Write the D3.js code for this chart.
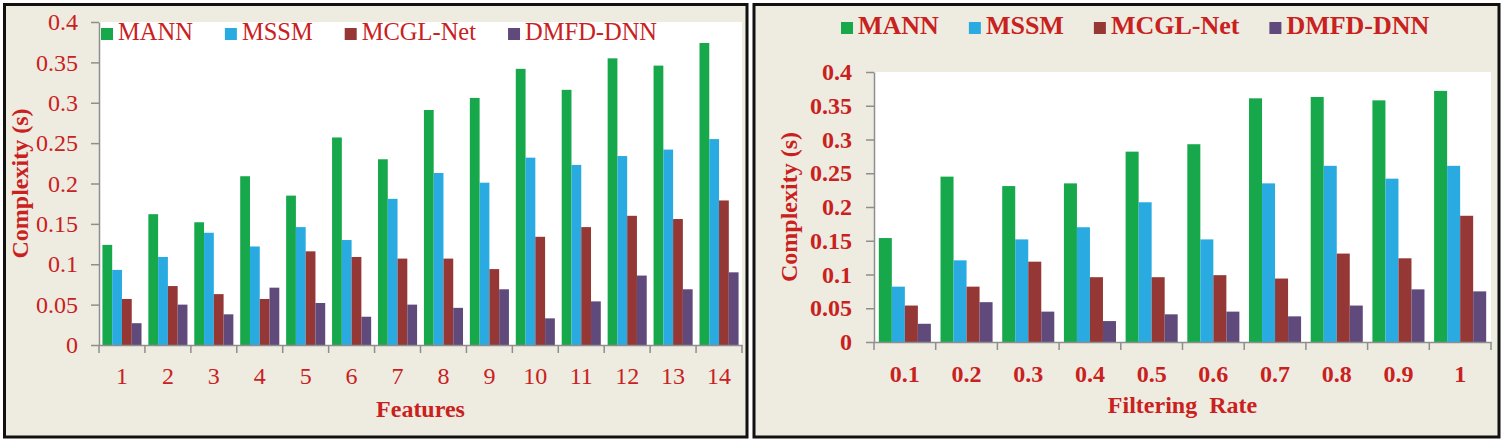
<!DOCTYPE html>
<html>
<head>
<meta charset="utf-8">
<script src="https://cdn.jsdelivr.net/npm/d3@7"></script>
<style>
  body { margin: 0; background: #ffffff; }
  svg { display: block; }
</style>
</head>
<body>
<script>
// series names and colours
var seriesNames = ["MANN", "MSSM", "MCGL-Net", "DMFD-DNN"];
var seriesColors = ["#17a84b", "#29abe2", "#953735", "#604a7b"];

// left chart: complexity vs number of features
var featureCats = ["1","2","3","4","5","6","7","8","9","10","11","12","13","14"];
var featMANN  = [0.124,0.162,0.152,0.209,0.185,0.257,0.230,0.291,0.306,0.342,0.316,0.355,0.346,0.374];
var featMSSM  = [0.093,0.109,0.139,0.122,0.146,0.130,0.181,0.213,0.201,0.232,0.223,0.234,0.242,0.255];
var featMCGL  = [0.057,0.073,0.063,0.057,0.116,0.109,0.107,0.107,0.094,0.134,0.146,0.160,0.156,0.179];
var featDMFD  = [0.027,0.050,0.038,0.071,0.052,0.035,0.050,0.046,0.069,0.033,0.054,0.086,0.069,0.090];

// right chart: complexity vs filtering rate
var rateCats = ["0.1","0.2","0.3","0.4","0.5","0.6","0.7","0.8","0.9","1"];
var rateMANN = [0.154,0.245,0.231,0.235,0.282,0.293,0.361,0.363,0.358,0.372];
var rateMSSM = [0.082,0.121,0.152,0.170,0.207,0.152,0.235,0.261,0.242,0.261];
var rateMCGL = [0.054,0.082,0.119,0.096,0.096,0.099,0.094,0.131,0.124,0.187];
var rateDMFD = [0.027,0.059,0.045,0.031,0.041,0.045,0.038,0.054,0.078,0.075];

// y ticks (same for both)
var yTicks = [0,0.05,0.1,0.15,0.2,0.25,0.3,0.35,0.4];

//globals
var W = 1505, H = 443;
var textRed = "#c9211e";
var axisGrey = "#8e8e8e";
var serif = "'Liberation Serif','Times New Roman',serif";

var svg = d3.select("body").append("svg")
    .attr("width", W)
    .attr("height", H);

function drawPanel(p) {
    var g = svg.append("g");

    // frame
    g.append("rect")
        .attr("x", p.box[0]).attr("y", p.box[1])
        .attr("width", p.box[2]).attr("height", p.box[3])
        .attr("fill", "#eeebe0")
        .attr("stroke", "#111")
        .attr("stroke-width", 3);

    // white plot area
    g.append("rect")
        .attr("x", p.left).attr("y", p.top)
        .attr("width", p.right - p.left).attr("height", p.bottom - p.top)
        .attr("fill", "#ffffff");

    var x = d3.scaleBand().domain(p.cats).range([p.left, p.right]);
    var y = d3.scaleLinear().domain([0, 0.4]).range([p.bottom, p.top]);
    var inner = d3.scaleBand().domain(seriesNames)
        .range([0, x.bandwidth()])
        .paddingOuter(p.outerPad).paddingInner(0);

    var weight = p.bold ? "bold" : "normal";

    // bars
    p.series.forEach(function(vals, si) {
        g.append("g").selectAll("rect")
            .data(vals)
            .enter()
            .append("rect")
            .attr("x", function(d, i){ return x(p.cats[i]) + inner(seriesNames[si]); })
            .attr("y", function(d){ return y(d); })
            .attr("width", inner.bandwidth())
            .attr("height", function(d){ return y(0) - y(d); })
            .attr("fill", seriesColors[si]);
    });

    // y axis
    var yAxis = g.append("g")
        .attr("transform", "translate(" + p.left + ",0)")
        .call(d3.axisLeft(y).tickValues(yTicks).tickSize(8).tickSizeOuter(0).tickPadding(p.yPad)
            .tickFormat(function(d){ return d3.format("")(+d.toFixed(2)); }));
    yAxis.selectAll("line").attr("stroke", axisGrey).attr("stroke-width", 1.5);
    yAxis.select(".domain").attr("stroke", axisGrey).attr("stroke-width", 1.5);
    yAxis.selectAll("text")
        .attr("fill", textRed)
        .style("font-family", serif)
        .style("font-size", p.tickFont + "px")
        .style("font-weight", weight);

    // x axis (labels centred, ticks on category boundaries)
    var xAxis = g.append("g")
        .attr("transform", "translate(0," + p.bottom + ")")
        .call(d3.axisBottom(x).tickSize(0).tickSizeOuter(0).tickPadding(p.xPad));
    xAxis.select(".domain").attr("stroke", axisGrey).attr("stroke-width", 1.5);
    xAxis.selectAll("text")
        .attr("fill", textRed)
        .style("font-family", serif)
        .style("font-size", p.tickFont + "px")
        .style("font-weight", weight);

    var bounds = p.cats.map(function(c){ return x(c); }).concat([x.range()[1]]);
    g.append("g").selectAll("line")
        .data(bounds)
        .enter()
        .append("line")
        .attr("x1", function(d){ return d; })
        .attr("x2", function(d){ return d; })
        .attr("y1", p.bottom)
        .attr("y2", p.bottom + 8)
        .attr("stroke", axisGrey)
        .attr("stroke-width", 1.5);

    // axis titles
    g.append("text")
        .attr("x", (p.left + p.right) / 2)
        .attr("y", p.xTitleY)
        .attr("text-anchor", "middle")
        .attr("fill", textRed)
        .style("font-family", serif)
        .style("font-size", "24px")
        .style("font-weight", "bold")
        .style("white-space", "pre")
        .text(p.xTitle);

    g.append("text")
        .attr("transform", "translate(" + p.yTitleX + "," + ((p.top + p.bottom) / 2) + ") rotate(-90)")
        .attr("text-anchor", "middle")
        .attr("fill", textRed)
        .style("font-family", serif)
        .style("font-size", "24px")
        .style("font-weight", "bold")
        .text("Complexity (s)");

    // legend, laid out by measured text width
    var lx = p.legendX;
    seriesNames.forEach(function(name, si) {
        g.append("rect")
            .attr("x", lx)
            .attr("y", p.legendY - 12)
            .attr("width", 12)
            .attr("height", 12)
            .attr("fill", seriesColors[si]);
        var t = g.append("text")
            .attr("x", lx + 17)
            .attr("y", p.legendY)
            .attr("fill", textRed)
            .style("font-family", serif)
            .style("font-size", p.legendFont + "px")
            .style("font-weight", weight)
            .text(name);
        lx = lx + 17 + t.node().getComputedTextLength() + p.legendGap;
    });
}

drawPanel({
    box: [4.5, 4.5, 742.5, 432.5],
    left: 99, right: 742, top: 22, bottom: 345,
    cats: featureCats,
    series: [featMANN, featMSSM, featMCGL, featDMFD],
    outerPad: 0.35,
    bold: false,
    tickFont: 24,
    yPad: 13,
    xPad: 22,
    xTitle: "Features",
    xTitleY: 417,
    yTitleX: 28,
    legendX: 101, legendY: 40, legendFont: 24.5, legendGap: 32
});

drawPanel({
    box: [754, 4.5, 745, 432.5],
    left: 874, right: 1491, top: 72, bottom: 342,
    cats: rateCats,
    series: [rateMANN, rateMSSM, rateMCGL, rateDMFD],
    outerPad: 0.37,
    bold: true,
    tickFont: 24,
    yPad: 14,
    xPad: 23,
    xTitle: "Filtering  Rate",
    xTitleY: 413,
    yTitleX: 797,
    legendX: 841, legendY: 34, legendFont: 26, legendGap: 30
});
</script>
</body>
</html>
